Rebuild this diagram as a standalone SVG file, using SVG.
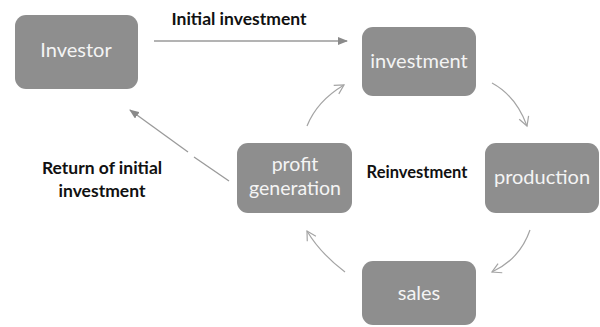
<svg xmlns="http://www.w3.org/2000/svg" width="600" height="327" viewBox="0 0 600 327">
  <style>
    .box { fill: #8e8e8e; }
    .nodetext { font-family: Lato, "Open Sans", sans-serif; font-size: 20px; fill: #f4f4f4; text-anchor: middle; }
    .label { font-family: Lato, "Open Sans", sans-serif; font-size: 17.5px; font-weight: bold; fill: #111; text-anchor: middle; }
    .line { fill: none; stroke: #9a9a9a; stroke-width: 1.3; }
    .curve { fill: none; stroke: #a4a4a4; stroke-width: 1.2; }
  </style>
  <defs>
    <marker id="solidHead" markerWidth="10" markerHeight="8" refX="9" refY="4" orient="auto" markerUnits="userSpaceOnUse">
      <path d="M0,0 L10,4 L0,8 Z" fill="#8a8a8a"/>
    </marker>
    <marker id="openHead" markerWidth="12" markerHeight="12" refX="10" refY="6" orient="auto" markerUnits="userSpaceOnUse">
      <path d="M1,1 L10,6 L1,11" fill="none" stroke="#a4a4a4" stroke-width="1.2"/>
    </marker>
  </defs>
  <rect width="600" height="327" fill="#ffffff"/>

  <g id="connectors">
    <line class="line" x1="154" y1="41" x2="347" y2="41" marker-end="url(#solidHead)"/>
    <path class="curve" d="M492,83 Q516,96 527,126" marker-end="url(#openHead)"/>
    <path class="curve" d="M530,230 Q520,259 492,272" marker-end="url(#openHead)"/>
    <path class="curve" d="M345,272 Q320,253 307,231" marker-end="url(#openHead)"/>
    <path class="curve" d="M307,126 Q317,101 344,85" marker-end="url(#openHead)"/>
    <line class="line" x1="229" y1="181" x2="194" y2="157"/>
    <line class="line" x1="188" y1="152" x2="130" y2="110" marker-end="url(#solidHead)"/>
  </g>

  <g id="investor">
    <rect class="box" x="15" y="15" width="123" height="74" rx="11"/>
    <text class="nodetext" x="76" y="57">Investor</text>
  </g>
  <g id="investment">
    <rect class="box" x="362" y="27" width="114" height="69" rx="11"/>
    <text class="nodetext" x="419" y="68">investment</text>
  </g>
  <g id="production">
    <rect class="box" x="485" y="143" width="114" height="70" rx="11"/>
    <text class="nodetext" x="542" y="184">production</text>
  </g>
  <g id="sales">
    <rect class="box" x="362" y="261" width="114" height="64" rx="11"/>
    <text class="nodetext" x="419" y="300">sales</text>
  </g>
  <g id="profit-generation">
    <rect class="box" x="237" y="143" width="115" height="70" rx="11"/>
    <text class="nodetext" x="295" y="171" style="font-size:19.5px">profit</text>
    <text class="nodetext" x="295" y="195" style="font-size:19.5px">generation</text>
  </g>

  <g id="labels">
    <text class="label" x="239" y="25">Initial investment</text>
    <text class="label" x="102" y="174">Return of initial</text>
    <text class="label" x="102" y="197">investment</text>
    <text class="label" x="417" y="178" style="font-size:16.5px">Reinvestment</text>
  </g>
</svg>
